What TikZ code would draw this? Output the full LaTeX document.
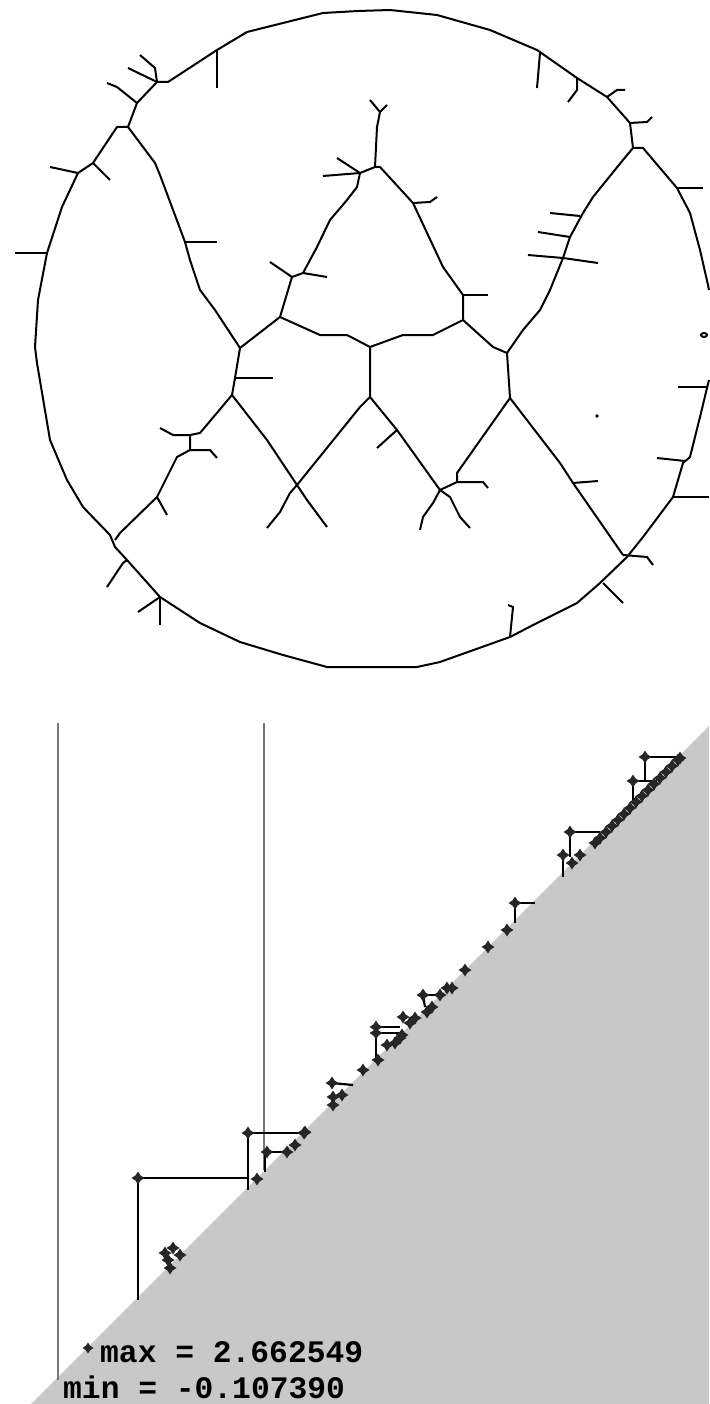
\documentclass[tikz,border=0pt]{standalone}
\usepackage{fontspec}
\newfontfamily\pixmono{Liberation Mono}
\usetikzlibrary{shapes.geometric}
\definecolor{diaggray}{RGB}{200,200,200}
\definecolor{guidegray}{RGB}{120,120,120}
\tikzset{
  skel/.style  = {line width=2pt, line join=round},
  bar/.style   = {line width=2.2pt},
  guide/.style = {line width=1.8pt, draw=guidegray},
  pt/.style    = {star, star points=4, star point ratio=1.8, fill=black!85, minimum size=13pt, inner sep=0},
  lbl/.style   = {inner sep=0, anchor=base west, font=\pixmono\bfseries\fontsize{31.3}{34}\selectfont}
}
\begin{document}
\begin{tikzpicture}[x=1pt, y=-1pt]
  \useasboundingbox (0,0) rectangle (709,1404);
  \draw[skel] (709,290) -- (708,285) -- (700,250) -- (690,213) -- (677,188) -- (643,148) -- (633,148) -- (630,123) -- (607,97) -- (577,78)
    -- (537,50) -- (490,30) -- (437,15) -- (390,10) -- (358,11) -- (323,13) -- (247,32) -- (217,50) -- (168,82) -- (157,82)
    -- (137,103) -- (128,127) -- (117,127) -- (93,163) -- (78,173) -- (62,207) -- (47,253) -- (38,300) -- (35,347) -- (37,363)
    -- (50,440) -- (67,480) -- (83,507) -- (110,535) -- (115,547) -- (127,560) -- (160,597) -- (200,623) -- (240,642) -- (283,655)
    -- (327,667) -- (417,667) -- (440,662) -- (510,637) -- (537,623) -- (577,603) -- (600,583) -- (627,557) -- (643,537)
    -- (673,497) -- (683,463) -- (690,457) -- (700,417) -- (707,388) -- (709,380);
  \draw[skel] (157,82) -- (155,68) -- (140,55);
  \draw[skel] (157,82) -- (128,68);
  \draw[skel] (137,103) -- (117,87) -- (107,83);
  \draw[skel] (93,163) -- (110,180);
  \draw[skel] (78,173) -- (50,167);
  \draw[skel] (47,253) -- (15,253);
  \draw[skel] (217,50) -- (217,88);
  \draw[skel] (540,53) -- (537,88);
  \draw[skel] (577,78) -- (577,90) -- (568,102);
  \draw[skel] (607,97) -- (617,90) -- (625,90);
  \draw[skel] (630,123) -- (647,122) -- (652,117);
  \draw[skel] (677,188) -- (703,188);
  \draw[skel] (707,387) -- (678,387);
  \draw[skel] (685,461) -- (657,458);
  \draw[skel] (673,497) -- (709,497);
  \draw[skel] (623,555) -- (647,557) -- (653,565);
  \draw[skel] (603,583) -- (623,603);
  \draw[skel] (510,637) -- (513,607) -- (508,605);
  \draw[skel] (127,560) -- (123,563) -- (107,587);
  \draw[skel] (160,597) -- (160,625);
  \draw[skel] (160,597) -- (138,612);
  \draw[skel] (128,127) -- (155,163) -- (160,175) -- (185,242) -- (190,260) -- (200,290) -- (215,310) -- (240,348);
  \draw[skel] (185,242) -- (217,242);
  \draw[skel] (240,348) -- (280,317);
  \draw[skel] (240,348) -- (235,378) -- (232,395);
  \draw[skel] (235,378) -- (273,378);
  \draw[skel] (232,395) -- (200,433) -- (190,435) -- (173,435) -- (160,428);
  \draw[skel] (190,435) -- (190,450) -- (210,450) -- (217,458);
  \draw[skel] (190,450) -- (177,457) -- (157,497) -- (120,533) -- (115,540);
  \draw[skel] (157,497) -- (167,515);
  \draw[skel] (232,395) -- (267,440) -- (297,485);
  \draw[skel] (297,485) -- (360,407) -- (370,397);
  \draw[skel] (297,485) -- (290,493) -- (280,512) -- (267,528);
  \draw[skel] (297,485) -- (307,500) -- (327,527);
  \draw[skel] (375,167) -- (377,127) -- (380,112) -- (370,100);
  \draw[skel] (380,112) -- (387,105);
  \draw[skel] (375,167) -- (360,173) -- (337,158);
  \draw[skel] (360,173) -- (323,176);
  \draw[skel] (360,173) -- (357,187) -- (347,200) -- (330,220) -- (317,247) -- (303,273) -- (292,277) -- (280,317);
  \draw[skel] (303,273) -- (327,277);
  \draw[skel] (292,277) -- (270,262);
  \draw[skel] (280,317) -- (320,335) -- (347,335) -- (370,347) -- (403,335) -- (433,335) -- (463,320);
  \draw[skel] (463,320) -- (463,295) -- (443,267) -- (413,203) -- (380,167) -- (375,167);
  \draw[skel] (463,295) -- (488,295);
  \draw[skel] (413,203) -- (430,202) -- (437,197);
  \draw[skel] (370,347) -- (370,397) -- (397,430) -- (440,490);
  \draw[skel] (397,430) -- (377,448);
  \draw[skel] (440,490) -- (433,503) -- (423,517) -- (420,530);
  \draw[skel] (440,490) -- (450,497) -- (460,517) -- (470,528);
  \draw[skel] (440,490) -- (457,482) -- (483,482) -- (488,488);
  \draw[skel] (457,482) -- (457,473) -- (510,398);
  \draw[skel] (463,320) -- (493,347) -- (507,353);
  \draw[skel] (507,353) -- (523,330) -- (540,310) -- (550,290) -- (563,258) -- (570,237) -- (583,213) -- (593,197) -- (623,160) -- (633,148);
  \draw[skel] (563,258) -- (528,255);
  \draw[skel] (563,258) -- (598,263);
  \draw[skel] (570,237) -- (538,232);
  \draw[skel] (580,216) -- (550,213);
  \draw[skel] (507,353) -- (510,398) -- (560,463) -- (573,483) -- (623,555);
  \draw[skel] (573,483) -- (598,481);
  \fill (597,416) circle (1.8);
  \draw[skel] (704,335) ellipse (3 and 2);

  \fill[diaggray] (31,1404) -- (709,726) -- (709,1404) -- cycle;
  \draw[guide] (58,723) -- (58,1380);
  \draw[guide] (264,723) -- (264,1170);
  \draw[bar] (645,757) -- (677,757);
  \draw[bar] (645,757) -- (645,781);
  \draw[bar] (633,781) -- (657,781);
  \draw[bar] (633,781) -- (633,800);
  \draw[bar] (570,832) -- (600,832);
  \draw[bar] (570,832) -- (570,857);
  \draw[bar] (563,855) -- (563,877);
  \draw[bar] (515,903) -- (535,903);
  \draw[bar] (515,903) -- (515,923);
  \draw[bar] (423,995) -- (440,995);
  \draw[bar] (423,995) -- (425,1007);
  \draw[bar] (376,1027) -- (400,1027);
  \draw[bar] (376,1033) -- (400,1033);
  \draw[bar] (376,1027) -- (376,1058);
  \draw[bar] (332,1083) -- (353,1085);
  \draw[bar] (248,1133) -- (305,1133);
  \draw[bar] (248,1133) -- (248,1190);
  \draw[bar] (267,1152) -- (287,1152);
  \draw[bar] (265,1152) -- (265,1172);
  \draw[bar] (138,1178) -- (248,1178);
  \draw[bar] (138,1178) -- (138,1300);
  \foreach \x/\y [count=\i] in {645/757, 680/758, 633/781, 570/832, 563/855, 580/855, 572/863, 595/843,
      515/903, 507/930, 488/947, 465/970, 447/988, 452/988, 440/995, 423/995, 427/1012, 432/1007,
      403/1017, 410/1023, 415/1018, 376/1027, 376/1033, 402/1035, 395/1043, 387/1045, 400/1038,
      378/1060, 363/1070, 332/1083, 333/1097, 342/1095, 333/1105, 304/1133, 248/1133, 305/1132,
      267/1152, 287/1152, 295/1145, 138/1178, 257/1179, 165/1253, 173/1248, 180/1255, 170/1268, 168/1260}
    \node[pt] (p\i) at (\x,\y) {};
  \foreach \x [count=\i] in {600,606,...,678}
    \node[pt] (d\i) at (\x,1438-\x) {};
  \node[pt, minimum size=11pt] (mk) at (88,1348) {};
  \node[lbl] (max) at (100,1362) {max = 2.662549};
  \node[lbl] (min) at (63,1398) {min = -0.107390};
\end{tikzpicture}
\end{document}
